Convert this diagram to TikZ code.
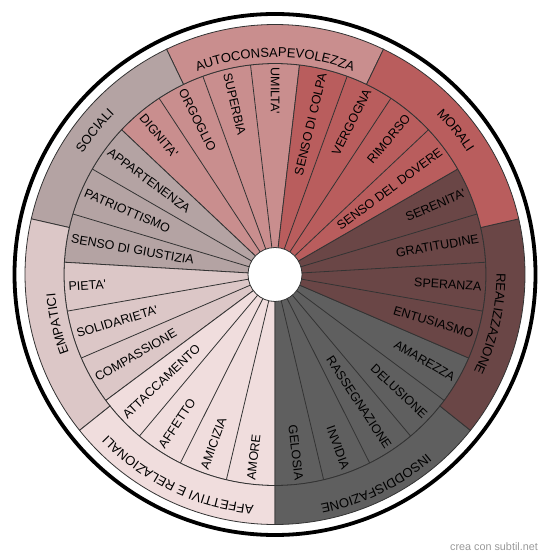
\documentclass[tikz,border=0pt]{standalone}
\usepackage{fontspec}
\newfontfamily\wheelfont{Liberation Sans}
\usetikzlibrary{decorations.text}
\definecolor{autocol}{HTML}{C98E8E}
\definecolor{moralcol}{HTML}{B95D5D}
\definecolor{realcol}{HTML}{6A4646}
\definecolor{insodcol}{HTML}{5F5F5F}
\definecolor{affcol}{HTML}{F0DDDD}
\definecolor{empcol}{HTML}{DCC7C7}
\definecolor{soccol}{HTML}{B4A3A3}
\begin{document}
\begin{tikzpicture}[x=1pt, y=1pt,
    sep/.style={draw=black!80, line width=0.8pt},
    rlabel/.style={font=\wheelfont\fontsize{12.5}{14}\selectfont, inner sep=0pt, anchor=east},
    llabel/.style={font=\wheelfont\fontsize{12.5}{14}\selectfont, inner sep=0pt, anchor=west},
    ringtext/.style={decorate, decoration={text along path, text align=center,
        text={|\wheelfont\fontsize{13}{15}\selectfont|#1}}}]
    \useasboundingbox (0,0) rectangle (550,559);
    \begin{scope}[shift={(275,284.5)}]
    % inner ring: 27 wedges of 13.33 deg, groups of 4,4,4,5,4,3,3
    \filldraw[sep, fill=autocol] (0,0) -- (83.33:211) arc[start angle=83.33, end angle=136.67, radius=211] -- cycle;
    \filldraw[sep, fill=soccol] (0,0) -- (136.67:211) arc[start angle=136.67, end angle=176.67, radius=211] -- cycle;
    \filldraw[sep, fill=empcol] (0,0) -- (176.67:211) arc[start angle=176.67, end angle=216.67, radius=211] -- cycle;
    \filldraw[sep, fill=affcol] (0,0) -- (216.67:211) arc[start angle=216.67, end angle=270, radius=211] -- cycle;
    \filldraw[sep, fill=insodcol] (0,0) -- (270:211) arc[start angle=270, end angle=336.67, radius=211] -- cycle;
    \filldraw[sep, fill=realcol] (0,0) -- (-23.33:211) arc[start angle=-23.33, end angle=30, radius=211] -- cycle;
    \filldraw[sep, fill=moralcol] (0,0) -- (30:211) arc[start angle=30, end angle=83.33, radius=211] -- cycle;
    \draw[sep] (3.33:27) -- (3.33:211) (16.67:27) -- (16.67:211) (43.33:27) -- (43.33:211)
        (56.67:27) -- (56.67:211) (70:27) -- (70:211) (96.67:27) -- (96.67:211)
        (110:27) -- (110:211) (123.33:27) -- (123.33:211) (150:27) -- (150:211)
        (163.33:27) -- (163.33:211) (190:27) -- (190:211) (203.33:27) -- (203.33:211)
        (230:27) -- (230:211) (243.33:27) -- (243.33:211) (256.67:27) -- (256.67:211)
        (283.33:27) -- (283.33:211) (296.67:27) -- (296.67:211) (310:27) -- (310:211)
        (323.33:27) -- (323.33:211) (350:27) -- (350:211);
    % outer ring: 7 equal sectors of 51.43 deg
    \filldraw[sep, fill=autocol] (64.29:211) arc[start angle=64.29, end angle=115.71, radius=211] -- (115.71:250) arc[start angle=115.71, end angle=64.29, radius=250] -- cycle;
    \filldraw[sep, fill=soccol] (115.71:211) arc[start angle=115.71, end angle=167.14, radius=211] -- (167.14:250) arc[start angle=167.14, end angle=115.71, radius=250] -- cycle;
    \filldraw[sep, fill=empcol] (167.14:211) arc[start angle=167.14, end angle=218.57, radius=211] -- (218.57:250) arc[start angle=218.57, end angle=167.14, radius=250] -- cycle;
    \filldraw[sep, fill=affcol] (218.57:211) arc[start angle=218.57, end angle=270, radius=211] -- (270:250) arc[start angle=270, end angle=218.57, radius=250] -- cycle;
    \filldraw[sep, fill=insodcol] (270:211) arc[start angle=270, end angle=321.43, radius=211] -- (321.43:250) arc[start angle=321.43, end angle=270, radius=250] -- cycle;
    \filldraw[sep, fill=realcol] (-38.57:211) arc[start angle=-38.57, end angle=12.86, radius=211] -- (12.86:250) arc[start angle=12.86, end angle=-38.57, radius=250] -- cycle;
    \filldraw[sep, fill=moralcol] (12.86:211) arc[start angle=12.86, end angle=64.29, radius=211] -- (64.29:250) arc[start angle=64.29, end angle=12.86, radius=250] -- cycle;
    \filldraw[sep, fill=white] (0,0) circle[radius=27];
    \draw[line width=3.8pt] (0,0) circle[radius=260.5];
    % group names, clockwise along the ring
    \path[ringtext=AUTOCONSAPEVOLEZZA] (115.71:217.5) arc[start angle=115.71, end angle=64.29, radius=217.5];
    \path[ringtext=MORALI] (64.29:227.5) arc[start angle=64.29, end angle=12.86, radius=227.5];
    \path[ringtext=REALIZZAZIONE] (12.86:221.5) arc[start angle=12.86, end angle=-38.57, radius=221.5];
    \path[ringtext=INSODDISFAZIONE] (-38.57:234.5) arc[start angle=-38.57, end angle=-90, radius=234.5];
    \path[ringtext=AFFETTIVI E RELAZIONALI] (270:231.5) arc[start angle=270, end angle=218.57, radius=231.5];
    \path[ringtext=EMPATICI] (218.57:220.5) arc[start angle=218.57, end angle=167.14, radius=220.5];
    \path[ringtext=SOCIALI] (167.14:227) arc[start angle=167.14, end angle=115.71, radius=227];
    % right half reads outwards, left half inwards
    \node[rlabel, rotate=76.67] (colpa) at (76.67:207) {SENSO DI COLPA};
    \node[rlabel, rotate=63.33] (vergogna) at (63.33:207) {VERGOGNA};
    \node[rlabel, rotate=50] (rimorso) at (50:207) {RIMORSO};
    \node[rlabel, rotate=36.67] (dovere) at (36.67:207) {SENSO DEL DOVERE};
    \node[rlabel, rotate=23.33] (serenita) at (23.33:207) {SERENITA'};
    \node[rlabel, rotate=10] (gratitudine) at (10:207) {GRATITUDINE};
    \node[rlabel, rotate=-3.33] (speranza) at (-3.33:207) {SPERANZA};
    \node[rlabel, rotate=-16.67] (entusiasmo) at (-16.67:207) {ENTUSIASMO};
    \node[rlabel, rotate=-30] (amarezza) at (-30:207) {AMAREZZA};
    \node[rlabel, rotate=-43.33] (delusione) at (-43.33:207) {DELUSIONE};
    \node[rlabel, rotate=-56.67] (rassegnazione) at (-56.67:207) {RASSEGNAZIONE};
    \node[rlabel, rotate=-70] (invidia) at (-70:207) {INVIDIA};
    \node[rlabel, rotate=-83.33] (gelosia) at (-83.33:207) {GELOSIA};
    \node[llabel, rotate=-90] (umilta) at (90:207) {UMILTA'};
    \node[llabel, rotate=-76.67] (superbia) at (103.33:207) {SUPERBIA};
    \node[llabel, rotate=-63.33] (orgoglio) at (116.67:207) {ORGOGLIO};
    \node[llabel, rotate=-50] (dignita) at (130:207) {DIGNITA'};
    \node[llabel, rotate=-36.67] (appartenenza) at (143.33:207) {APPARTENENZA};
    \node[llabel, rotate=-23.33] (patriottismo) at (156.67:207) {PATRIOTTISMO};
    \node[llabel, rotate=-10] (giustizia) at (170:207) {SENSO DI GIUSTIZIA};
    \node[llabel, rotate=3.33] (pieta) at (183.33:207) {PIETA'};
    \node[llabel, rotate=16.67] (solidarieta) at (196.67:207) {SOLIDARIETA'};
    \node[llabel, rotate=30] (compassione) at (210:207) {COMPASSIONE};
    \node[llabel, rotate=43.33] (attaccamento) at (223.33:207) {ATTACCAMENTO};
    \node[llabel, rotate=56.67] (affetto) at (236.67:207) {AFFETTO};
    \node[llabel, rotate=70] (amicizia) at (250:207) {AMICIZIA};
    \node[llabel, rotate=83.33] (amore) at (263.33:207) {AMORE};
    \end{scope}
    \node[font=\wheelfont\fontsize{10.8}{12}\selectfont, text=black!40] (credit) at (494,12) {crea con subtil.net};
\end{tikzpicture}
\end{document}
